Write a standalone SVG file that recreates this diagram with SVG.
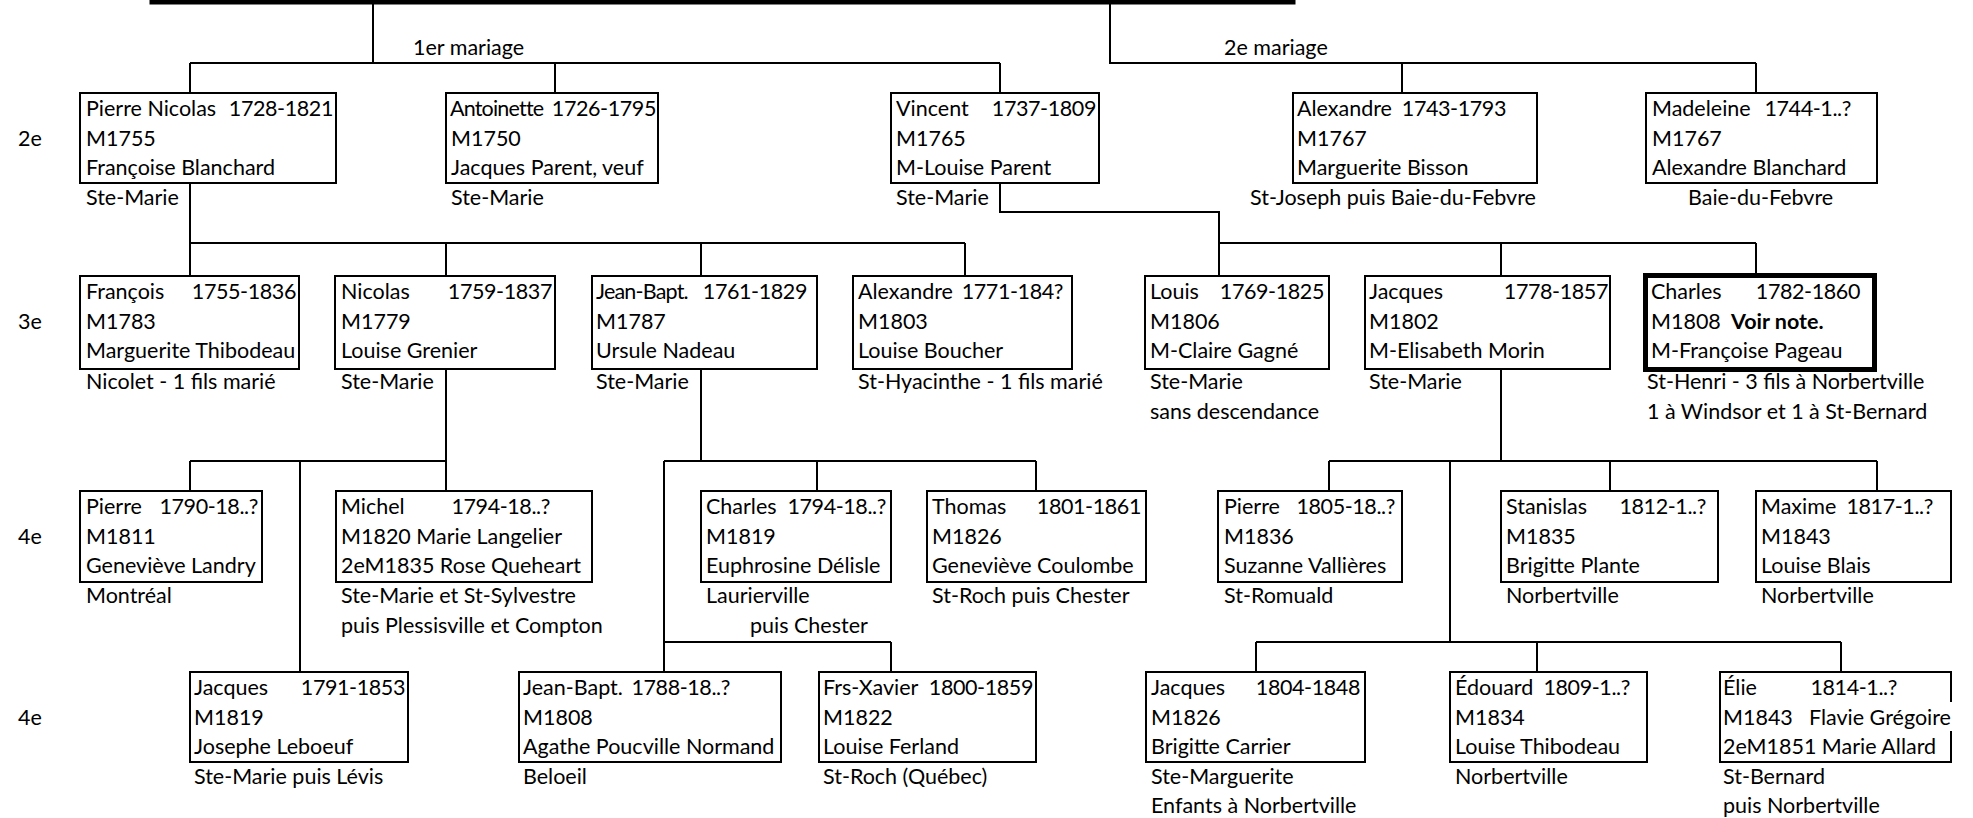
<svg xmlns="http://www.w3.org/2000/svg" width="1973" height="818" viewBox="0 0 1973 818">
<style>
text{font-family:Lato,"Liberation Sans",sans-serif;font-size:21.5px;fill:#000}
.d{text-anchor:end;letter-spacing:-0.4px}
.n{letter-spacing:-0.8px}
.b{fill:none;stroke:#000;stroke-width:2}
.thick{fill:none;stroke:#000;stroke-width:5}
.c{fill:none;stroke:#000;stroke-width:2}
.bold{font-weight:bold}
</style>
<rect width="1973" height="818" fill="#fff"/>
<g id="root"><path class="thick" d="M152,-10 V2 H1293 V-10"/></g>
<g id="connectors">
<path class="c" d="M373,2 V63 M190,63 H1000 M190,63 V93 M555,63 V93 M1000,63 V93"/>
<path class="c" d="M1110,2 V63 H1756 M1402,63 V93 M1756,63 V93"/>
<path class="c" d="M190,183 V276 M190,243 H965 M446,243 V276 M701,243 V276 M965,243 V276"/>
<path class="c" d="M1000,183 V212 H1219 V276 M1219,243 H1756 M1501,243 V276 M1756,243 V274"/>
<path class="c" d="M446,369 V461 M190,461 H446 M190,461 V491 M300,461 V672 M446,461 V491"/>
<path class="c" d="M701,369 V461 M664,461 H1036 M817,461 V491 M1036,461 V491 M664,461 V672 M664,642 H891 M891,642 V672"/>
<path class="c" d="M1501,369 V461 M1329,461 H1877 M1329,461 V491 M1610,461 V491 M1877,461 V491 M1450,461 V642 M1256,642 H1841 M1256,642 V672 M1537,642 V672 M1841,642 V672"/>
</g>
<g id="labels">
<text x="413" y="55">1er mariage</text>
<text x="1224" y="55">2e mariage</text>
<text x="18" y="146">2e</text>
<text x="18" y="329">3e</text>
<text x="18" y="544">4e</text>
<text x="18" y="725">4e</text>
</g>
<g id="n-pierre-nicolas"><rect class="b" x="80" y="93" width="256" height="90"/>
<text x="86" y="116">Pierre Nicolas</text><text class="d" x="333" y="116">1728-1821</text>
<text x="86" y="146">M1755</text><text x="86" y="175">Françoise Blanchard</text><text x="86" y="205">Ste-Marie</text></g>
<g id="n-antoinette"><rect class="b" x="446" y="93" width="212" height="90"/>
<text class="n" x="450" y="116">Antoinette</text><text class="d" x="656" y="116">1726-1795</text>
<text x="451" y="146">M1750</text><text x="451" y="175">Jacques Parent, veuf</text><text x="451" y="205">Ste-Marie</text></g>
<g id="n-vincent"><rect class="b" x="891" y="93" width="208" height="90"/>
<text x="896" y="116">Vincent</text><text class="d" x="1096" y="116">1737-1809</text>
<text x="896" y="146">M1765</text><text x="896" y="175">M-Louise Parent</text><text x="896" y="205">Ste-Marie</text></g>
<g id="n-alexandre-1743"><rect class="b" x="1293" y="93" width="244" height="90"/>
<text x="1297" y="116">Alexandre</text><text class="d" x="1506" y="116">1743-1793</text>
<text x="1297" y="146">M1767</text><text x="1297" y="175">Marguerite Bisson</text><text x="1250" y="205">St-Joseph puis Baie-du-Febvre</text></g>
<g id="n-madeleine"><rect class="b" x="1646" y="93" width="231" height="90"/>
<text x="1652" y="116">Madeleine</text><text class="d" x="1851" y="116">1744-1..?</text>
<text x="1652" y="146">M1767</text><text x="1652" y="175">Alexandre Blanchard</text><text x="1688" y="205">Baie-du-Febvre</text></g>

<g id="n-francois"><rect class="b" x="80" y="276" width="219" height="93"/>
<text x="86" y="299">François</text><text class="d" x="296" y="299">1755-1836</text>
<text x="86" y="329">M1783</text><text x="86" y="358">Marguerite Thibodeau</text><text x="86" y="389">Nicolet - 1 fils marié</text></g>
<g id="n-nicolas"><rect class="b" x="335" y="276" width="220" height="93"/>
<text x="341" y="299">Nicolas</text><text class="d" x="552" y="299">1759-1837</text>
<text x="341" y="329">M1779</text><text x="341" y="358">Louise Grenier</text><text x="341" y="389">Ste-Marie</text></g>
<g id="n-jean-bapt-1761"><rect class="b" x="592" y="276" width="225" height="93"/>
<text class="n" x="596" y="299">Jean-Bapt.</text><text class="d" x="807" y="299">1761-1829</text>
<text x="596" y="329">M1787</text><text x="596" y="358">Ursule Nadeau</text><text x="596" y="389">Ste-Marie</text></g>
<g id="n-alexandre-1771"><rect class="b" x="853" y="276" width="219" height="93"/>
<text x="858" y="299">Alexandre</text><text class="d" x="1063" y="299">1771-184?</text>
<text x="858" y="329">M1803</text><text x="858" y="358">Louise Boucher</text><text x="858" y="389">St-Hyacinthe - 1 fils marié</text></g>
<g id="n-louis"><rect class="b" x="1145" y="276" width="184" height="93"/>
<text x="1150" y="299">Louis</text><text class="d" x="1324" y="299">1769-1825</text>
<text x="1150" y="329">M1806</text><text x="1150" y="358">M-Claire Gagné</text><text x="1150" y="389">Ste-Marie</text><text x="1150" y="419">sans descendance</text></g>
<g id="n-jacques-1778"><rect class="b" x="1365" y="276" width="245" height="93"/>
<text x="1369" y="299">Jacques</text><text class="d" x="1608" y="299">1778-1857</text>
<text x="1369" y="329">M1802</text><text x="1369" y="358">M-Elisabeth Morin</text><text x="1369" y="389">Ste-Marie</text></g>
<g id="n-charles-1782"><rect class="thick" x="1645.5" y="275.5" width="229" height="94"/>
<text x="1651" y="299">Charles</text><text class="d" x="1860" y="299">1782-1860</text>
<text x="1651" y="329">M1808</text><text x="1731" y="329" class="bold">Voir note.</text><text x="1651" y="358">M-Françoise Pageau</text>
<text x="1647" y="389">St-Henri - 3 fils à Norbertville</text><text x="1647" y="419">1 à Windsor et 1 à St-Bernard</text></g>

<g id="n-pierre-1790"><rect class="b" x="80" y="491" width="182" height="91"/>
<text x="86" y="514">Pierre</text><text class="d" x="258" y="514">1790-18..?</text>
<text x="86" y="544">M1811</text><text x="86" y="573">Geneviève Landry</text><text x="86" y="603">Montréal</text></g>
<g id="n-michel"><rect class="b" x="336" y="491" width="256" height="91"/>
<text x="341" y="514">Michel</text><text class="d" x="550" y="514">1794-18..?</text>
<text x="341" y="544">M1820 Marie Langelier</text><text x="341" y="573">2eM1835 Rose Queheart</text><text x="341" y="603">Ste-Marie et St-Sylvestre</text><text x="341" y="633">puis Plessisville et Compton</text></g>
<g id="n-charles-1794"><rect class="b" x="701" y="491" width="190" height="91"/>
<text x="706" y="514">Charles</text><text class="d" x="886" y="514">1794-18..?</text>
<text x="706" y="544">M1819</text><text x="706" y="573">Euphrosine Délisle</text><text x="706" y="603">Laurierville</text><text x="750" y="633">puis Chester</text></g>
<g id="n-thomas"><rect class="b" x="927" y="491" width="219" height="91"/>
<text x="932" y="514">Thomas</text><text class="d" x="1141" y="514">1801-1861</text>
<text x="932" y="544">M1826</text><text x="932" y="573">Geneviève Coulombe</text><text x="932" y="603">St-Roch puis Chester</text></g>
<g id="n-pierre-1805"><rect class="b" x="1218" y="491" width="184" height="91"/>
<text x="1224" y="514">Pierre</text><text class="d" x="1395" y="514">1805-18..?</text>
<text x="1224" y="544">M1836</text><text x="1224" y="573">Suzanne Vallières</text><text x="1224" y="603">St-Romuald</text></g>
<g id="n-stanislas"><rect class="b" x="1501" y="491" width="217" height="91"/>
<text x="1506" y="514">Stanislas</text><text class="d" x="1706" y="514">1812-1..?</text>
<text x="1506" y="544">M1835</text><text x="1506" y="573">Brigitte Plante</text><text x="1506" y="603">Norbertville</text></g>
<g id="n-maxime"><rect class="b" x="1756" y="491" width="195" height="91"/>
<text x="1761" y="514">Maxime</text><text class="d" x="1933" y="514">1817-1..?</text>
<text x="1761" y="544">M1843</text><text x="1761" y="573">Louise Blais</text><text x="1761" y="603">Norbertville</text></g>

<g id="n-jacques-1791"><rect class="b" x="190" y="672" width="218" height="90"/>
<text x="194" y="695">Jacques</text><text class="d" x="405" y="695">1791-1853</text>
<text x="194" y="725">M1819</text><text x="194" y="754">Josephe Leboeuf</text><text x="194" y="784">Ste-Marie puis Lévis</text></g>
<g id="n-jean-bapt-1788"><rect class="b" x="519" y="672" width="262" height="90"/>
<text x="523" y="695">Jean-Bapt.</text><text class="d" x="730" y="695">1788-18..?</text>
<text x="523" y="725">M1808</text><text x="523" y="754">Agathe Poucville Normand</text><text x="523" y="784">Beloeil</text></g>
<g id="n-frs-xavier"><rect class="b" x="819" y="672" width="217" height="90"/>
<text x="823" y="695">Frs-Xavier</text><text class="d" x="1033" y="695">1800-1859</text>
<text x="823" y="725">M1822</text><text x="823" y="754">Louise Ferland</text><text x="823" y="784">St-Roch (Québec)</text></g>
<g id="n-jacques-1804"><rect class="b" x="1146" y="672" width="219" height="90"/>
<text x="1151" y="695">Jacques</text><text class="d" x="1360" y="695">1804-1848</text>
<text x="1151" y="725">M1826</text><text x="1151" y="754">Brigitte Carrier</text><text x="1151" y="784">Ste-Marguerite</text><text x="1151" y="813">Enfants à Norbertville</text></g>
<g id="n-edouard"><rect class="b" x="1450" y="672" width="197" height="90"/>
<text x="1455" y="695">Édouard</text><text class="d" x="1630" y="695">1809-1..?</text>
<text x="1455" y="725">M1834</text><text x="1455" y="754">Louise Thibodeau</text><text x="1455" y="784">Norbertville</text></g>
<g id="n-elie"><path class="b" d="M1951,702 V672 H1720 V762 H1951 V731"/>
<text x="1723" y="695">Élie</text><text class="d" x="1897" y="695">1814-1..?</text>
<text x="1723" y="725">M1843</text><text x="1809" y="725">Flavie Grégoire</text><text x="1723" y="754">2eM1851 Marie Allard</text><text x="1723" y="784">St-Bernard</text><text x="1723" y="813">puis Norbertville</text></g>
</svg>
